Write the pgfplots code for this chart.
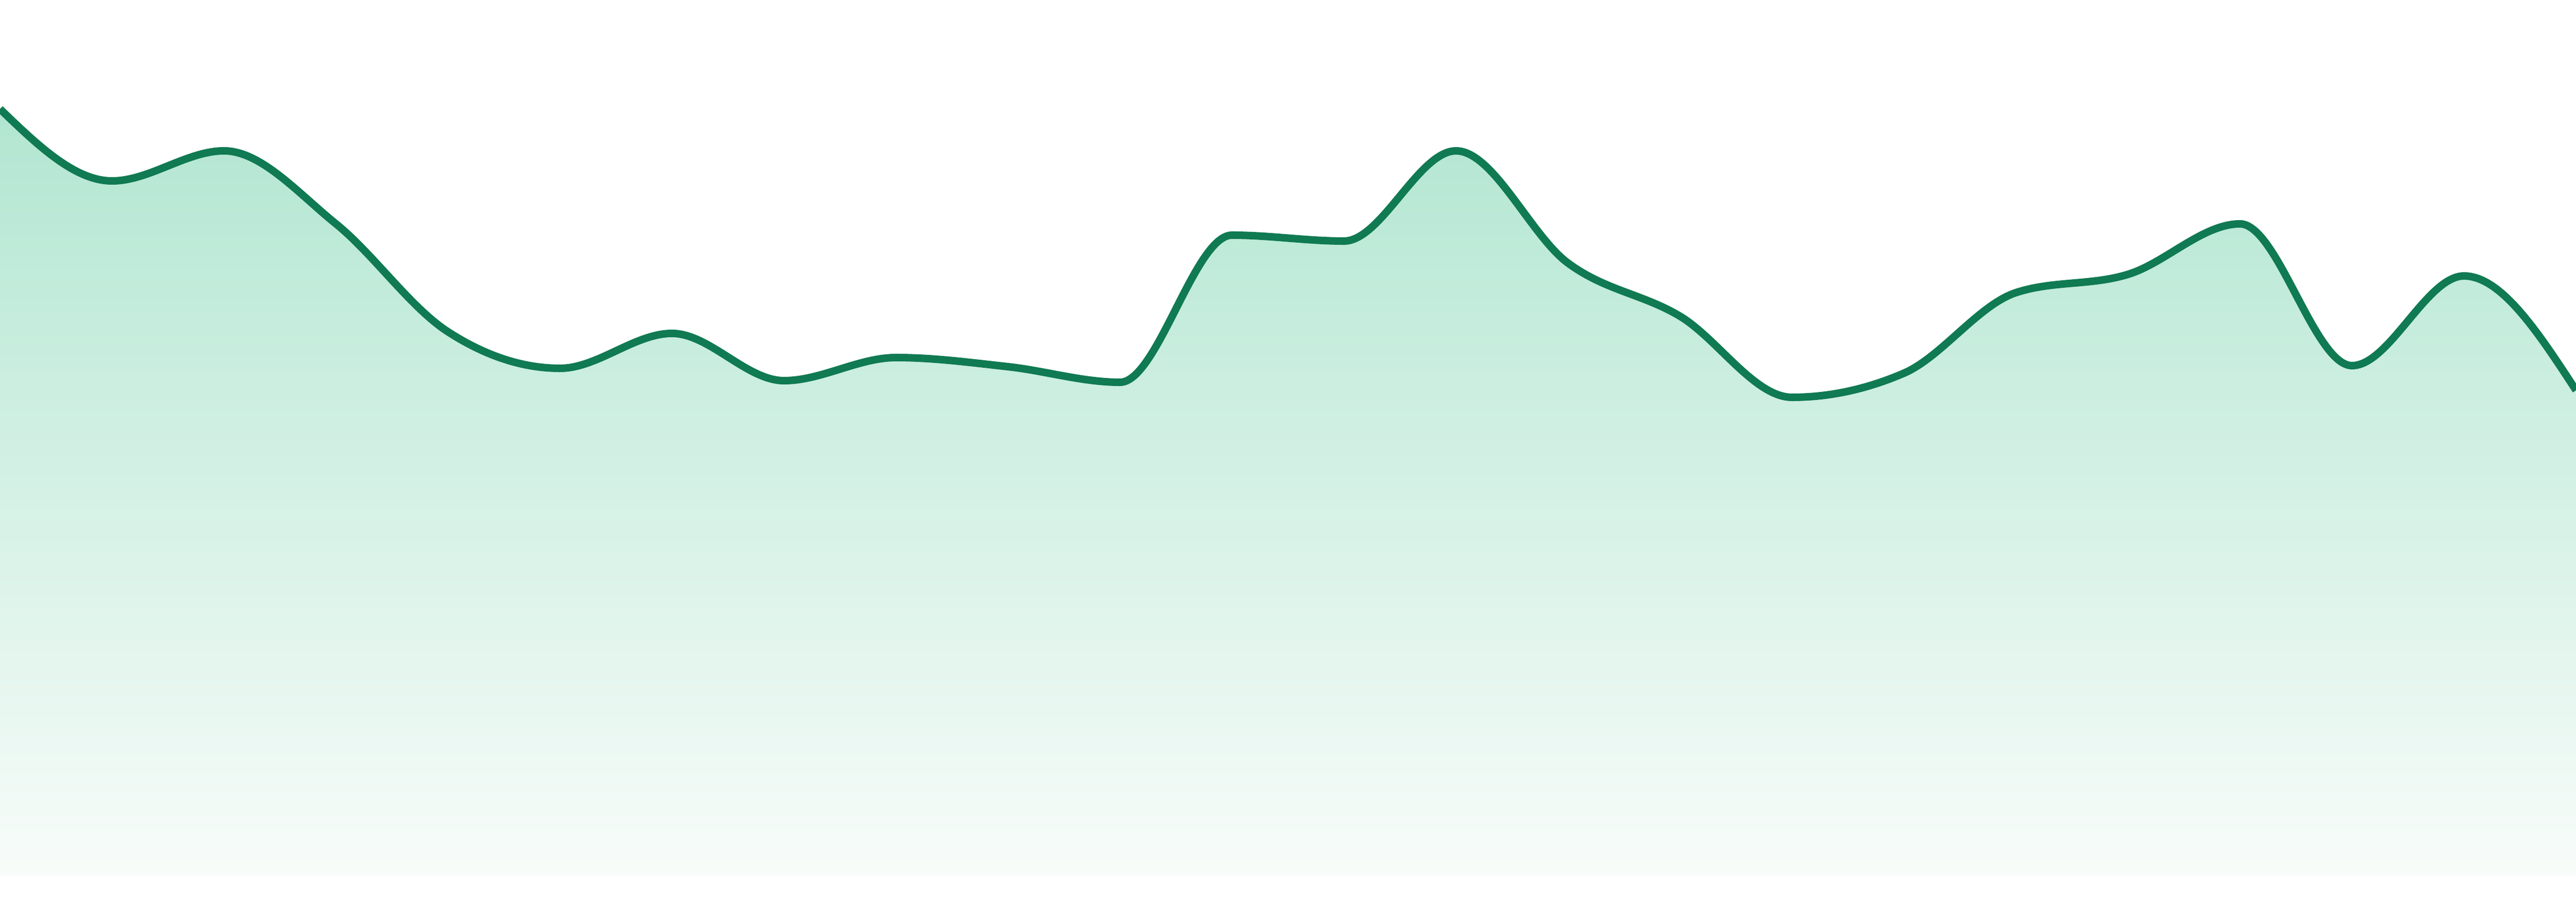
\documentclass[border=0pt]{standalone}
\usepackage{pgfplots}
\pgfplotsset{compat=1.18}

\definecolor{linegreen}{RGB}{16,122,82}
\definecolor{filltop}{RGB}{178,230,209}
\definecolor{fillbot}{RGB}{248,252,250}

% monotone cubic plot handler (same curve type as the source chart)
\makeatletter
\newcount\mono@n
\newcount\mono@i
\def\mono@at#1#2{\csname mono@#1@\number#2\endcsname}
\def\pgfplothandlermonotone{%
  \def\pgf@plotstreamstart{%
    \global\mono@n=0\relax
    \global\let\pgf@plotstreampoint=\mono@point
    \global\let\pgf@plotstreamspecial=\pgfutil@gobble
    \global\let\pgf@plotstreamend=\mono@build
  }%
}
\def\mono@point#1{%
  \pgf@process{#1}%
  \expandafter\xdef\csname mono@x@\the\mono@n\endcsname{\pgf@sys@tonumber\pgf@x}%
  \expandafter\xdef\csname mono@y@\the\mono@n\endcsname{\pgf@sys@tonumber\pgf@y}%
  \global\advance\mono@n by 1\relax
}
\def\mono@build{%
  % inner tangents
  \mono@i=1\relax
  \loop\ifnum\mono@i<\numexpr\mono@n-1\relax
    \edef\mono@xa{\mono@at{x}{\numexpr\mono@i-1\relax}}%
    \edef\mono@ya{\mono@at{y}{\numexpr\mono@i-1\relax}}%
    \edef\mono@xb{\mono@at{x}{\mono@i}}%
    \edef\mono@yb{\mono@at{y}{\mono@i}}%
    \edef\mono@xc{\mono@at{x}{\numexpr\mono@i+1\relax}}%
    \edef\mono@yc{\mono@at{y}{\numexpr\mono@i+1\relax}}%
    \pgfmathsetmacro\mono@hz{\mono@xb-\mono@xa}%
    \pgfmathsetmacro\mono@ho{\mono@xc-\mono@xb}%
    \pgfmathsetmacro\mono@sz{(\mono@yb-\mono@ya)/\mono@hz}%
    \pgfmathsetmacro\mono@so{(\mono@yc-\mono@yb)/\mono@ho}%
    \pgfmathsetmacro\mono@p{(\mono@sz*\mono@ho+\mono@so*\mono@hz)/(\mono@hz+\mono@ho)}%
    \pgfmathsetmacro\mono@t{(sign(\mono@sz)+sign(\mono@so))*min(abs(\mono@sz),abs(\mono@so),0.5*abs(\mono@p))}%
    \expandafter\xdef\csname mono@t@\the\mono@i\endcsname{\mono@t}%
    \advance\mono@i by 1\relax
  \repeat
  % end tangents
  \pgfmathsetmacro\mono@t{(3*(\mono@at{y}{1}-\mono@at{y}{0})/(\mono@at{x}{1}-\mono@at{x}{0})-\mono@at{t}{1})/2}%
  \expandafter\xdef\csname mono@t@0\endcsname{\mono@t}%
  \edef\mono@last{\number\numexpr\mono@n-1\relax}%
  \edef\mono@prev{\number\numexpr\mono@n-2\relax}%
  \pgfmathsetmacro\mono@t{(3*(\mono@at{y}{\mono@last}-\mono@at{y}{\mono@prev})/(\mono@at{x}{\mono@last}-\mono@at{x}{\mono@prev})-\mono@at{t}{\mono@prev})/2}%
  \expandafter\xdef\csname mono@t@\mono@last\endcsname{\mono@t}%
  % the path
  \pgf@plot@first@action{\pgfqpoint{\mono@at{x}{0}pt}{\mono@at{y}{0}pt}}%
  \mono@i=0\relax
  \loop\ifnum\mono@i<\mono@last\relax
    \edef\mono@xa{\mono@at{x}{\mono@i}}%
    \edef\mono@ya{\mono@at{y}{\mono@i}}%
    \edef\mono@ta{\mono@at{t}{\mono@i}}%
    \edef\mono@xb{\mono@at{x}{\numexpr\mono@i+1\relax}}%
    \edef\mono@yb{\mono@at{y}{\numexpr\mono@i+1\relax}}%
    \edef\mono@tb{\mono@at{t}{\numexpr\mono@i+1\relax}}%
    \pgfmathsetmacro\mono@d{(\mono@xb-\mono@xa)/3}%
    \pgfmathsetmacro\mono@cax{\mono@xa+\mono@d}%
    \pgfmathsetmacro\mono@cay{\mono@ya+\mono@d*\mono@ta}%
    \pgfmathsetmacro\mono@cbx{\mono@xb-\mono@d}%
    \pgfmathsetmacro\mono@cby{\mono@yb-\mono@d*\mono@tb}%
    \pgfpathcurveto{\pgfqpoint{\mono@cax pt}{\mono@cay pt}}%
                   {\pgfqpoint{\mono@cbx pt}{\mono@cby pt}}%
                   {\pgfqpoint{\mono@xb pt}{\mono@yb pt}}%
    \advance\mono@i by 1\relax
  \repeat
}
\tikzset{monotone/.code={\let\tikz@plot@handler=\pgfplothandlermonotone}}
\makeatother

\begin{document}
\begin{tikzpicture}
\begin{axis}[
  name=ax,
  scale only axis,
  width=48cm, height=16.32cm,
  xmin=0, xmax=23,
  ymin=0, ymax=1632,
  hide axis,
  clip=true,
]
% shaded area under the line
\addplot[draw=none, monotone, top color=filltop, bottom color=fillbot]
coordinates {
  (0,1429)(1,1295)(2,1351)(3,1215)(4,1014)(5,946)(6,1011)(7,923)
  (8,966)(9,949)(10,920)(11,1194)(12,1183)(13,1351)(14,1142)(15,1043)
  (16,892)(17,937)(18,1087)(19,1121)(20,1215)(21,951)(22,1118)(23,905)
} \closedcycle;
% the line itself
\addplot[linegreen, line width=4pt, monotone]
coordinates {
  (0,1429)(1,1295)(2,1351)(3,1215)(4,1014)(5,946)(6,1011)(7,923)
  (8,966)(9,949)(10,920)(11,1194)(12,1183)(13,1351)(14,1142)(15,1043)
  (16,892)(17,937)(18,1087)(19,1121)(20,1215)(21,951)(22,1118)(23,905)
};
\end{axis}
\pgfresetboundingbox
\useasboundingbox ([yshift=-0.48cm]ax.south west) rectangle (ax.north east);
\end{tikzpicture}
\end{document}
